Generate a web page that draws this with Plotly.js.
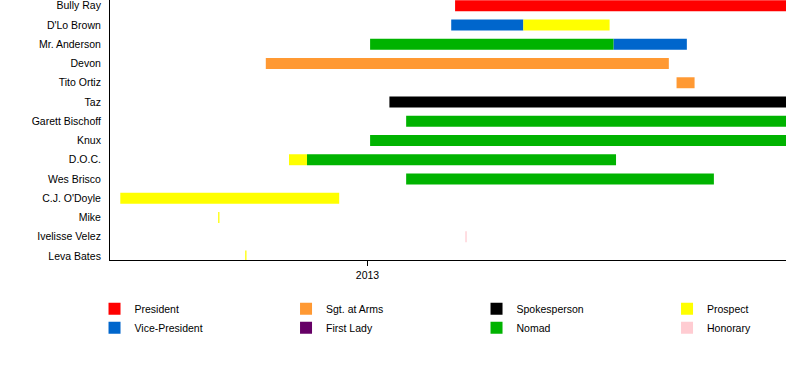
<!DOCTYPE html>
<html>
<head>
<meta charset="utf-8">
<script src="https://cdn.plot.ly/plotly-3.0.1.min.js"></script>
<style>html,body{margin:0;padding:0;background:#fff;}#chart{width:800px;height:380px;}</style>
</head>
<body>
<div id="chart"></div>
<script>
// Members, top to bottom
var members = ["Bully Ray", "D'Lo Brown", "Mr. Anderson", "Devon", "Tito Ortiz", "Taz",
  "Garett Bischoff", "Knux", "D.O.C.", "Wes Brisco", "C.J. O'Doyle", "Mike", "Ivelisse Velez", "Leva Bates"];

// Roles (legend order, column by column) and their colours
var roles = ["President", "Vice-President", "Sgt. at Arms", "First Lady", "Spokesperson", "Nomad", "Prospect", "Honorary"];
var roleColors = ["#FF0000", "#0066CC", "#FF9933", "#660066", "#000000", "#00B300", "#FFFF00", "#FFCCD2"];

// Membership spans
var spanMember = ["Bully Ray", "D'Lo Brown", "D'Lo Brown", "Mr. Anderson", "Mr. Anderson", "Devon", "Tito Ortiz",
  "Taz", "Garett Bischoff", "Knux", "D.O.C.", "D.O.C.", "Wes Brisco", "C.J. O'Doyle", "Mike", "Ivelisse Velez", "Leva Bates"];
var spanRole = ["President", "Vice-President", "Prospect", "Nomad", "Vice-President", "Sgt. at Arms", "Sgt. at Arms",
  "Spokesperson", "Nomad", "Nomad", "Prospect", "Nomad", "Nomad", "Prospect", "Prospect", "Honorary", "Prospect"];
var spanStart = ["2013-03-10", "2013-03-07", "2013-05-02", "2013-01-03", "2013-07-11", "2012-10-14", "2013-08-29",
  "2013-01-18", "2013-01-31", "2013-01-03", "2012-11-01", "2012-11-15", "2013-01-31", "2012-06-23", "2012-09-07", "2013-03-18", "2012-09-28"];
var spanEnd = ["2013-11-22", "2013-05-02", "2013-07-08", "2013-07-11", "2013-09-06", "2013-08-23", "2013-09-12",
  "2013-11-22", "2013-11-22", "2013-11-22", "2012-11-15", "2013-07-13", "2013-09-27", "2012-12-10", "2012-09-08", "2013-03-19", "2012-09-29"];

// Axis
var timeRange = ["2012-06-15", "2013-11-22"];
var tickDates = ["2013-01-01"];
var tickLabels = ["2013"];

// Legend columns (two roles per column)
var legendIds = ["legend", "legend", "legend2", "legend2", "legend3", "legend3", "legend4", "legend4"];
var legendX = [-0.0229, 0.2604, 0.5422, 0.8240];

var traces = roles.map(function (role, r) {
  var ys = [], bases = [], lens = [];
  for (var i = 0; i < spanRole.length; i++) {
    if (spanRole[i] !== role) continue;
    ys.push(spanMember[i]);
    bases.push(spanStart[i]);
    lens.push(new Date(spanEnd[i] + "T00:00:00Z") - new Date(spanStart[i] + "T00:00:00Z"));
  }
  return {
    type: "bar", orientation: "h", name: role, legend: legendIds[r],
    y: ys.length ? ys : [null], x: lens.length ? lens : [null], base: bases.length ? bases : [null],
    width: 0.57,
    marker: {color: roleColors[r], line: {width: 0}},
    showlegend: true, hoverinfo: "name+y"
  };
});

var layout = {
  width: 800, height: 380,
  margin: {l: 110, r: 14, t: 0, b: 120},
  paper_bgcolor: "#fff", plot_bgcolor: "#fff",
  font: {family: "Liberation Sans, Arial, sans-serif", size: 10.5, color: "#000"},
  barmode: "overlay",
  xaxis: {
    type: "date", range: timeRange, tickvals: tickDates, ticktext: tickLabels,
    ticks: "outside", ticklen: 5, tickcolor: "#000", showline: true, linecolor: "#000", linewidth: 1,
    showgrid: false, zeroline: false, fixedrange: true
  },
  yaxis: {
    type: "category", categoryorder: "array", categoryarray: members,
    range: [13.21, -0.3], showline: true, linecolor: "#000", linewidth: 1,
    showgrid: false, zeroline: false, ticks: "", ticklabelstandoff: 6, fixedrange: true
  },
  showlegend: true
};
["legend", "legend2", "legend3", "legend4"].forEach(function (id, k) {
  layout[id] = {
    orientation: "v", x: legendX[k], xanchor: "left", y: -0.132, yanchor: "top",
    traceorder: "normal", font: {size: 10.5}, itemclick: false, itemdoubleclick: false,
    bgcolor: "rgba(0,0,0,0)"
  };
});

Plotly.newPlot("chart", traces, layout, {displayModeBar: false, staticPlot: true});
</script>
</body>
</html>
